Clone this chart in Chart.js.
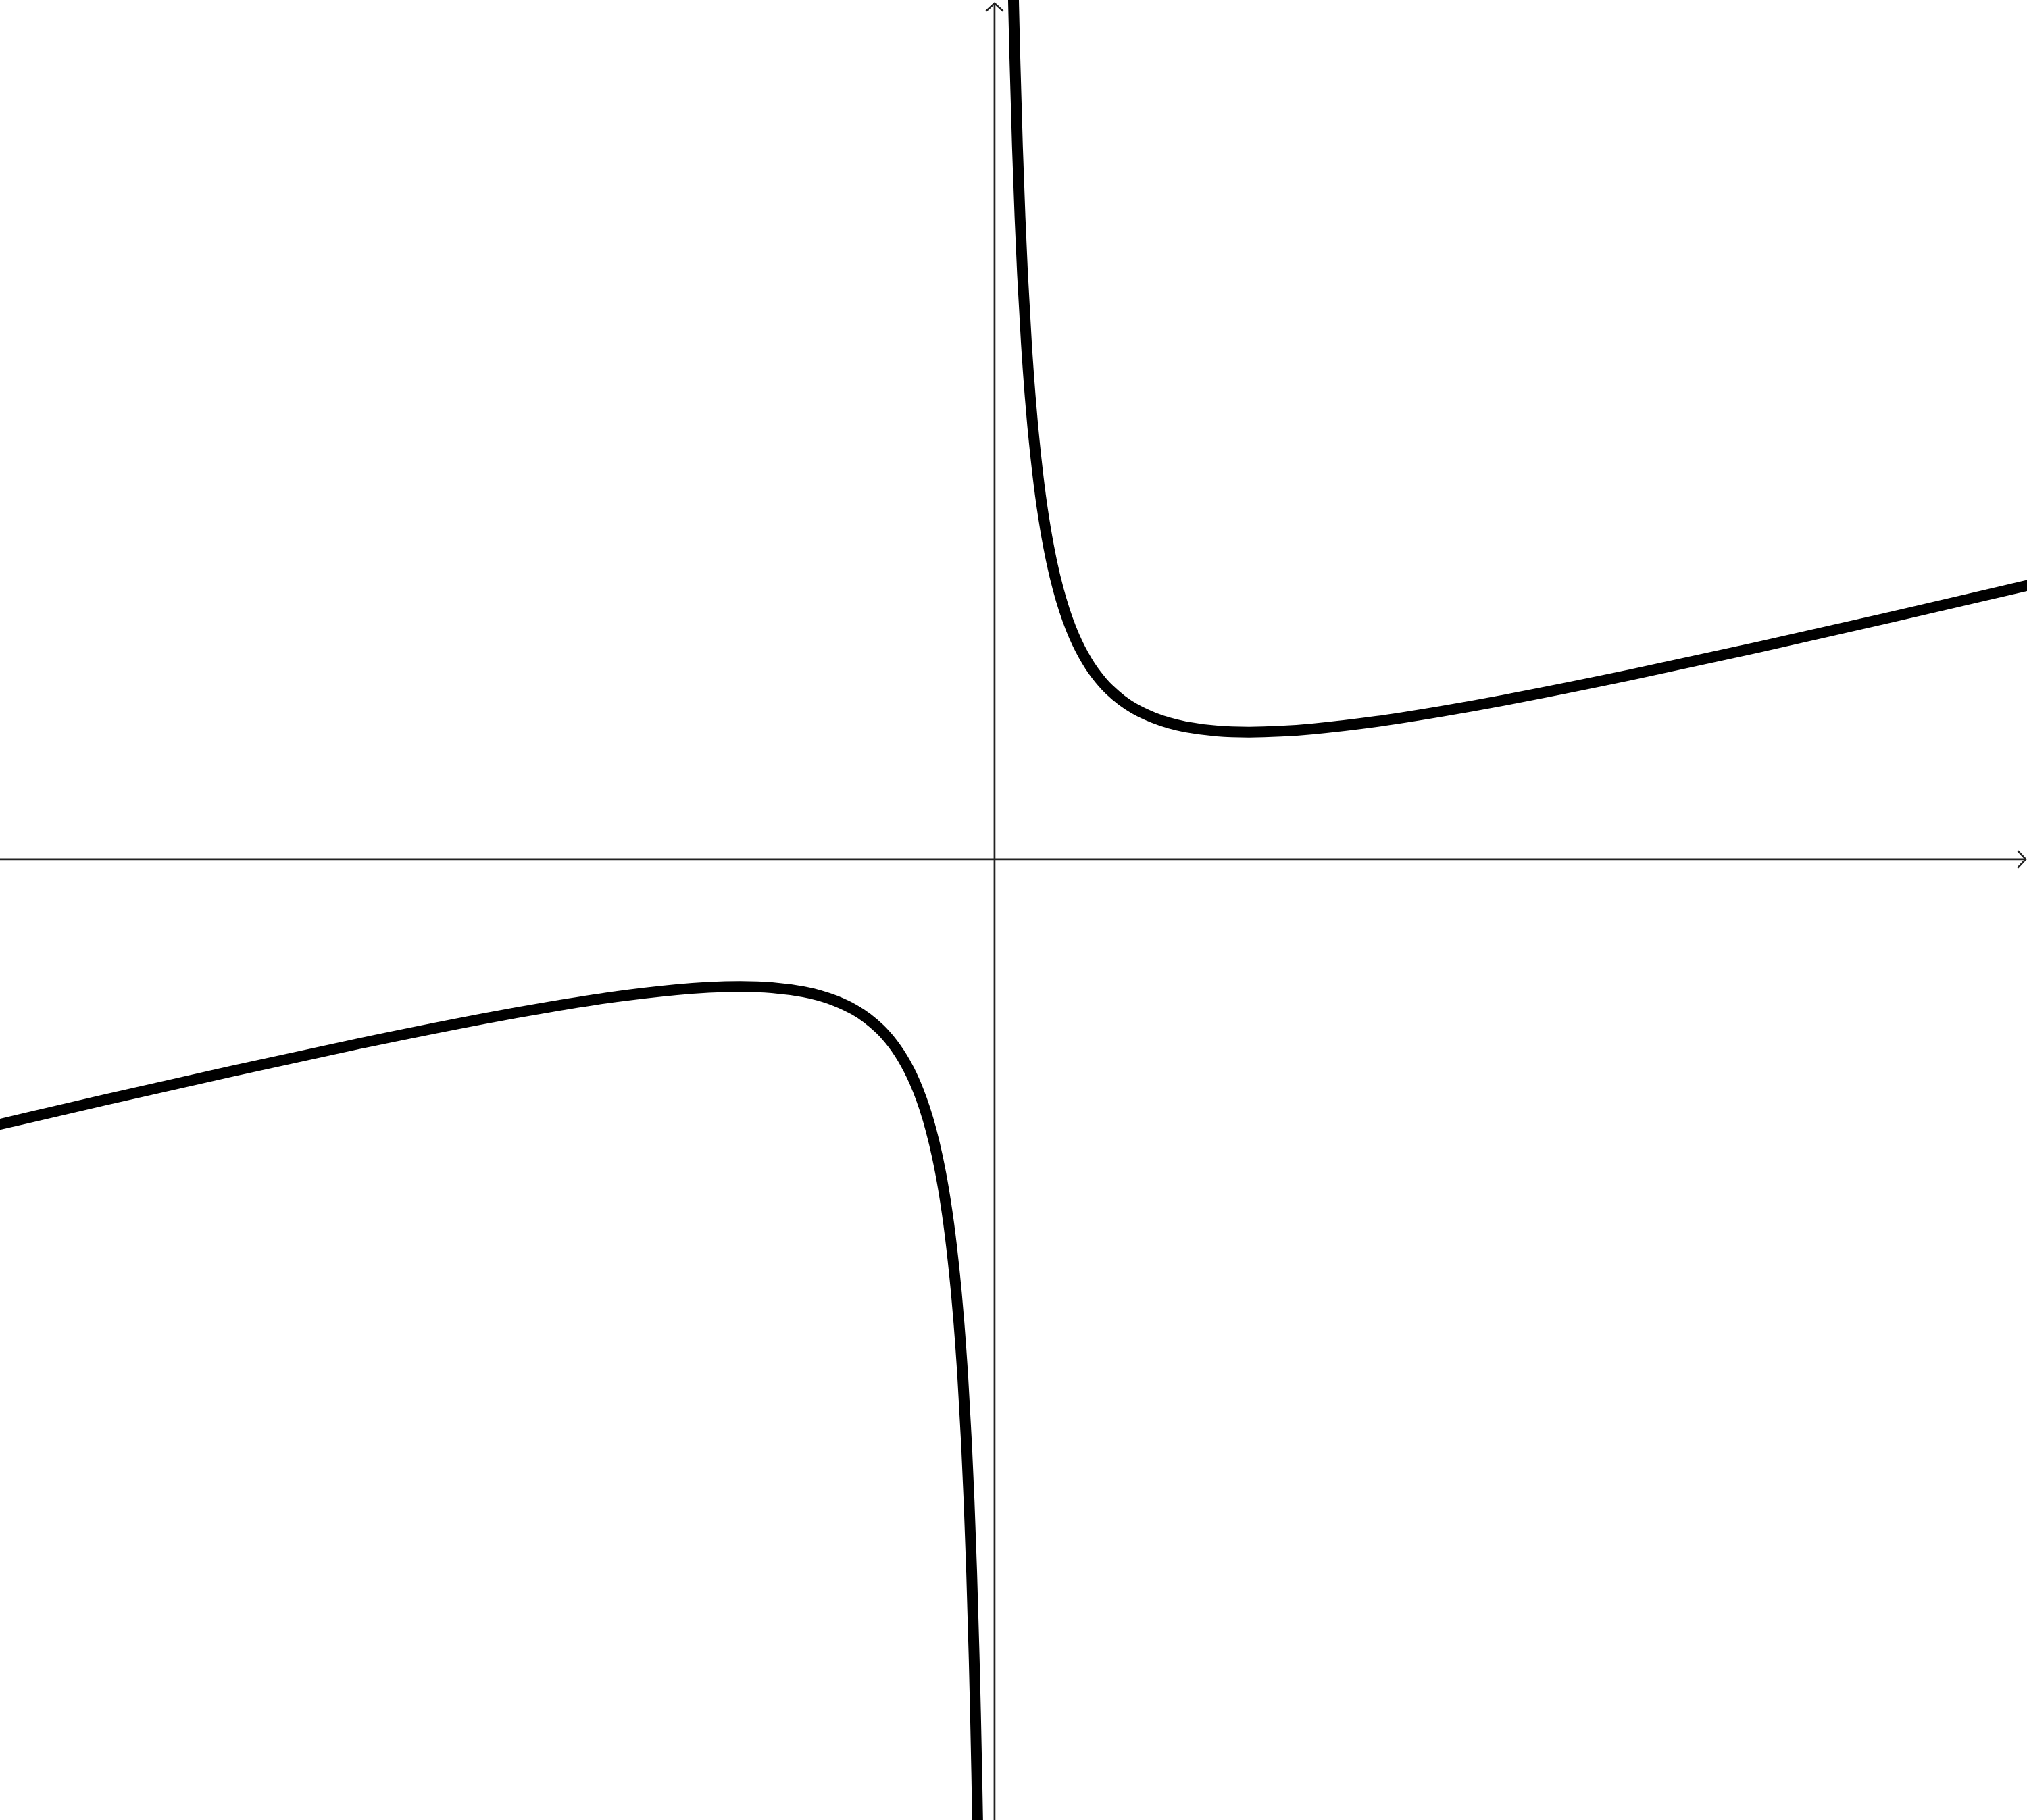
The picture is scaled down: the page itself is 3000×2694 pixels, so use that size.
<!DOCTYPE html>
<html>
<head>
<meta charset="utf-8">
<script src="https://cdn.jsdelivr.net/npm/chart.js@4/dist/chart.umd.min.js"></script>
<style>
  html, body { margin: 0; padding: 0; background: #fff; }
  #wrap { width: 3000px; height: 2694px; position: relative; }
</style>
</head>
<body>
<div id="wrap"><canvas id="graph"></canvas></div>
<script>
// right branch (x > 0)
const rightX = [0.13, 0.14, 0.15, 0.16, 0.18, 0.2, 0.22, 0.25, 0.28, 0.3, 0.35, 0.4, 0.45, 0.5, 0.55, 0.6, 0.65, 0.7, 0.75, 0.8, 0.85, 0.9, 1.0, 1.1, 1.25, 1.375, 1.5, 1.75, 2.0, 2.25, 2.5, 3.0, 3.5, 4.0, 5.0, 6.0, 7.0, 8.2];
const rightY = [7.725, 7.178, 6.704, 6.290, 5.601, 5.050, 4.600, 4.063, 3.641, 3.408, 2.945, 2.600, 2.335, 2.125, 1.956, 1.817, 1.701, 1.604, 1.521, 1.450, 1.389, 1.336, 1.250, 1.184, 1.113, 1.071, 1.042, 1.009, 1.000, 1.007, 1.025, 1.083, 1.161, 1.250, 1.450, 1.667, 1.893, 2.172];

// left branch (x < 0)
const leftX = [-7.9, -7.0, -6.0, -5.0, -4.0, -3.5, -3.0, -2.5, -2.25, -2.0, -1.75, -1.5, -1.375, -1.25, -1.1, -1.0, -0.9, -0.85, -0.8, -0.75, -0.7, -0.65, -0.6, -0.55, -0.5, -0.45, -0.4, -0.35, -0.3, -0.28, -0.25, -0.22, -0.2, -0.18, -0.16, -0.15, -0.14, -0.13, -0.12];
const leftY = [-2.102, -1.893, -1.667, -1.450, -1.250, -1.161, -1.083, -1.025, -1.007, -1.000, -1.009, -1.042, -1.071, -1.113, -1.184, -1.250, -1.336, -1.389, -1.450, -1.521, -1.604, -1.701, -1.817, -1.956, -2.125, -2.335, -2.600, -2.945, -3.408, -3.641, -4.063, -4.600, -5.050, -5.601, -6.290, -6.704, -7.178, -7.725, -8.363];

// visible window
const xRange = [-7.817, 8.115];
const yRange = [-7.552, 6.755];

const toPoints = (xs, ys) => xs.map((x, i) => ({ x: x, y: ys[i] }));

// axes through the origin, with open arrow heads
const axesPlugin = {
  id: 'axes',
  beforeDatasetsDraw(chart) {
    const { ctx, chartArea, scales } = chart;
    const ox = scales.x.getPixelForValue(0);
    const oy = scales.y.getPixelForValue(0);
    const right = chartArea.right - 2;
    const top = chartArea.top + 5;
    ctx.save();
    ctx.strokeStyle = '#222';
    ctx.lineWidth = 2.7;
    ctx.lineCap = 'round';
    ctx.lineJoin = 'round';
    ctx.beginPath();
    ctx.moveTo(chartArea.left, oy);
    ctx.lineTo(right, oy);
    ctx.moveTo(ox, chartArea.bottom);
    ctx.lineTo(ox, top);
    ctx.stroke();
    ctx.beginPath();
    ctx.moveTo(right - 11, oy - 12);
    ctx.lineTo(right, oy);
    ctx.lineTo(right - 11, oy + 12);
    ctx.moveTo(ox - 12, top + 11);
    ctx.lineTo(ox, top);
    ctx.lineTo(ox + 12, top + 11);
    ctx.stroke();
    ctx.restore();
  }
};

const curveStyle = {
  borderColor: '#000',
  borderWidth: 16,
  pointRadius: 0,
  fill: false,
  cubicInterpolationMode: 'monotone',
};

new Chart(document.getElementById('graph').getContext('2d'), {
  type: 'line',
  data: {
    datasets: [
      Object.assign({ label: 'right', data: toPoints(rightX, rightY) }, curveStyle),
      Object.assign({ label: 'left', data: toPoints(leftX, leftY) }, curveStyle),
    ],
  },
  options: {
    responsive: true,
    maintainAspectRatio: false,
    animation: false,
    layout: { padding: 0 },
    plugins: {
      legend: { display: false },
      tooltip: { enabled: false },
    },
    scales: {
      x: { type: 'linear', min: xRange[0], max: xRange[1], display: false },
      y: { type: 'linear', min: yRange[0], max: yRange[1], display: false },
    },
  },
  plugins: [axesPlugin],
});
</script>
</body>
</html>
